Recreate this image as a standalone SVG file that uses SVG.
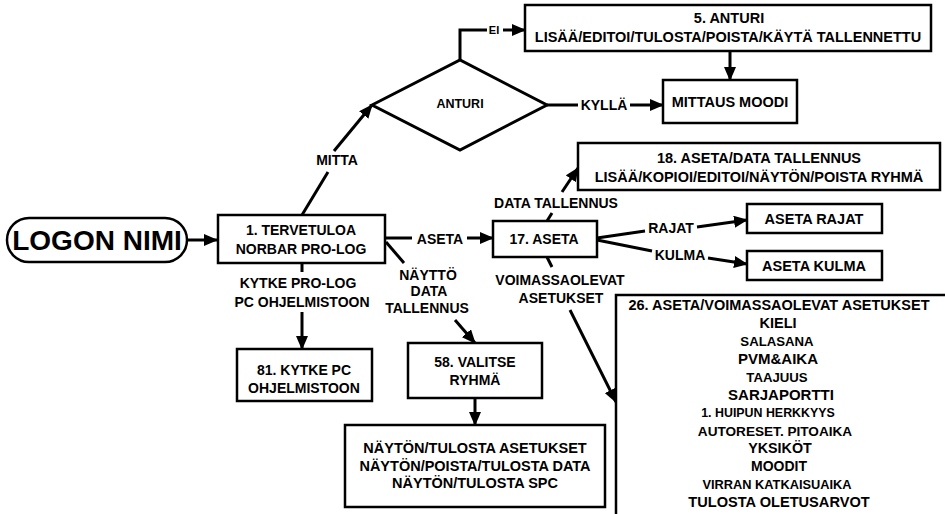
<svg xmlns="http://www.w3.org/2000/svg" width="945" height="514" viewBox="0 0 945 514">
<defs>
<marker id="ah" markerUnits="userSpaceOnUse" markerWidth="14" markerHeight="12" refX="13" refY="6" orient="auto">
<path d="M0,0 L14,6 L0,12 z" fill="#000"/>
</marker>
<style>
.box{fill:#fff;stroke:#000;stroke-width:2.5}
.ln{fill:none;stroke:#000;stroke-width:3}
.ar{fill:none;stroke:#000;stroke-width:3;marker-end:url(#ah)}
text{font-family:"Liberation Sans",Arial,sans-serif;font-weight:bold;fill:#000;text-anchor:middle}
.t{font-size:14px}
.tb{font-size:14.5px}
.s{font-size:12.5px}
</style>
</defs>
<rect width="945" height="514" fill="#fff"/>

<g id="connectors">
<path class="ar" d="M187,240 H217"/>
<path class="ln" d="M302,215 L328,172"/>
<path class="ar" d="M334,151 L372,105"/>
<text class="t" x="337" y="165">MITTA</text>
<path class="ln" d="M460,60 V30 H487"/>
<text x="494" y="34" style="font-size:11px">EI</text>
<path class="ar" d="M503,30 H525"/>
<path class="ln" d="M547,105 H578"/>
<text class="t" x="604" y="110">KYLLÄ</text>
<path class="ar" d="M630,105 H663"/>
<path class="ar" d="M730,51 V80"/>
<path class="ln" d="M385,238 H412"/>
<text class="t" x="440" y="244">ASETA</text>
<path class="ar" d="M467,238 H493"/>
<path class="ln" d="M386,242 L404,263"/>
<text class="t" x="428" y="280">NÄYTTÖ</text>
<text class="t" x="429" y="296">DATA</text>
<text class="t" x="427" y="313">TALLENNUS</text>
<path class="ar" d="M455,320 L475,343"/>
<path class="ln" d="M302,263 V272"/>
<text class="t" x="298" y="288">KYTKE PRO-LOG</text>
<text class="t" x="302" y="307">PC OHJELMISTOON</text>
<path class="ar" d="M302,312 V349"/>
<path class="ar" d="M475,398 V425"/>
<path class="ln" d="M547,221 L552,213"/>
<text class="t" x="556" y="208">DATA TALLENNUS</text>
<path class="ar" d="M562,192 L578,168"/>
<path class="ln" d="M597,238 L645,231"/>
<text class="t" x="671" y="233">RAJAT</text>
<path class="ar" d="M697,227 L747,220"/>
<path class="ln" d="M597,240 L652,251"/>
<text class="t" x="680" y="260">KULMA</text>
<path class="ar" d="M708,258 L747,264"/>
<path class="ln" d="M547,257 L552,267"/>
<text class="t" x="560" y="285">VOIMASSAOLEVAT</text>
<text class="t" x="561" y="303">ASETUKSET</text>
<path class="ar" d="M570,310 L616,402"/>
</g>

<g id="logon">
<rect class="box" x="7" y="218" width="180" height="44" rx="22" ry="22"/>
<text x="97" y="250" style="font-size:28px">LOGON NIMI</text>
</g>

<g id="n1">
<rect class="box" x="218" y="215" width="167" height="48"/>
<text class="t" x="301" y="235">1. TERVETULOA</text>
<text class="t" x="301" y="254">NORBAR PRO-LOG</text>
</g>

<g id="anturi">
<path d="M372,105 L460,60 L547,105 L460,150 z" fill="#fff" stroke="#000" stroke-width="3"/>
<text class="s" x="460" y="108">ANTURI</text>
</g>

<g id="n5">
<rect class="box" x="525" y="5" width="406" height="46"/>
<text class="tb" x="729" y="23">5. ANTURI</text>
<text class="tb" x="728" y="42">LISÄÄ/EDITOI/TULOSTA/POISTA/KÄYTÄ TALLENNETTU</text>
</g>

<g id="mittaus">
<rect class="box" x="663" y="80" width="134" height="43"/>
<text class="tb" x="730" y="107">MITTAUS MOODI</text>
</g>

<g id="n17">
<rect class="box" x="493" y="221" width="104" height="36"/>
<text class="t" x="544" y="244">17. ASETA</text>
</g>

<g id="n18">
<rect class="box" x="578" y="143" width="362" height="47"/>
<text class="tb" x="759" y="163">18. ASETA/DATA TALLENNUS</text>
<text class="tb" x="759" y="182">LISÄÄ/KOPIOI/EDITOI/NÄYTÖN/POISTA RYHMÄ</text>
</g>

<g id="rajat">
<rect class="box" x="747" y="204" width="135" height="29"/>
<text class="tb" x="814" y="224">ASETA RAJAT</text>
</g>

<g id="kulma">
<rect class="box" x="747" y="251" width="135" height="29"/>
<text class="tb" x="814" y="271">ASETA KULMA</text>
</g>

<g id="n81">
<rect class="box" x="237" y="349" width="135" height="52"/>
<text class="t" x="304" y="375">81. KYTKE PC</text>
<text class="t" x="304" y="393">OHJELMISTOON</text>
</g>

<g id="n58">
<rect class="box" x="408" y="343" width="134" height="55"/>
<text class="t" x="475" y="367">58. VALITSE</text>
<text class="t" x="475" y="385">RYHMÄ</text>
</g>

<g id="naytto">
<rect class="box" x="345" y="425" width="260" height="82"/>
<text class="tb" x="475" y="453">NÄYTÖN/TULOSTA ASETUKSET</text>
<text class="tb" x="475" y="471">NÄYTÖN/POISTA/TULOSTA DATA</text>
<text class="tb" x="475" y="488">NÄYTÖN/TULOSTA SPC</text>
</g>

<g id="n26">
<rect class="box" x="616" y="295" width="340" height="230"/>
<text class="tb" x="779" y="310">26. ASETA/VOIMASSAOLEVAT ASETUKSET</text>
<text x="778" y="328" style="font-size:14.5px">KIELI</text>
<text x="777" y="346" style="font-size:13.2px">SALASANA</text>
<text x="778" y="364" style="font-size:15px">PVM&amp;AIKA</text>
<text x="777" y="382" style="font-size:13.2px">TAAJUUS</text>
<text x="781" y="400" style="font-size:15px">SARJAPORTTI</text>
<text x="768" y="417" style="font-size:12.4px">1. HUIPUN HERKKYYS</text>
<text x="775" y="436" style="font-size:13.6px">AUTORESET. PITOAIKA</text>
<text x="780" y="453" style="font-size:14.3px">YKSIKÖT</text>
<text x="779" y="471" style="font-size:14px">MOODIT</text>
<text x="777" y="489" style="font-size:12.8px">VIRRAN KATKAISUAIKA</text>
<text x="779" y="507" style="font-size:14.6px">TULOSTA OLETUSARVOT</text>
</g>
</svg>
